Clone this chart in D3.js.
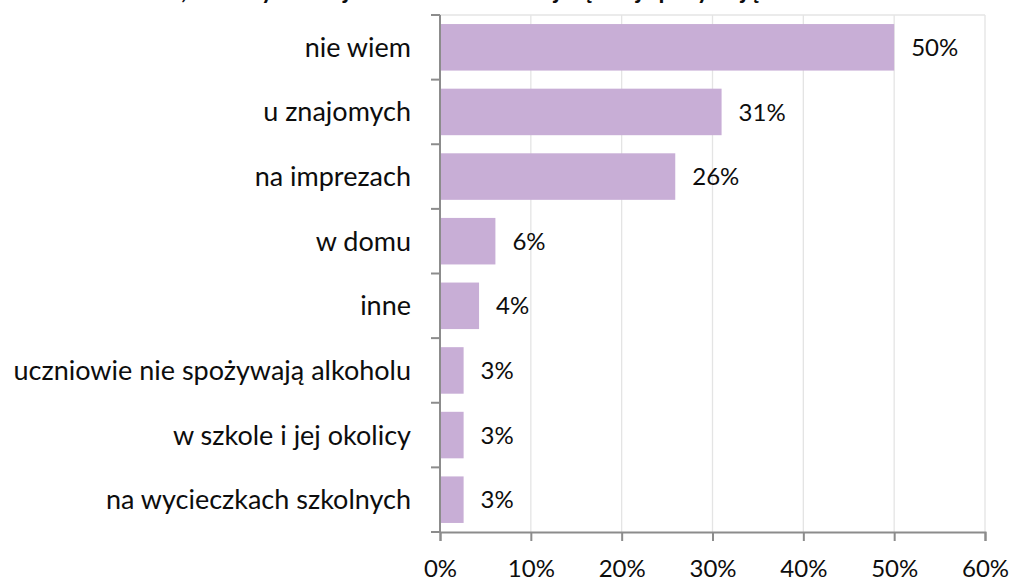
<!DOCTYPE html>
<html lang="pl">
<head>
<meta charset="UTF-8">
<title>Miejsca spożywania alkoholu</title>
<script src="https://cdn.jsdelivr.net/npm/d3@7"></script>
<style>
  body { margin: 0; background: #fff; }
  svg text { font-family: Lato, "Open Sans", sans-serif; fill: #0d0d0d; }
</style>
</head>
<body>
<svg id="chart" width="1013" height="581"></svg>
<script>
// dane
var categories = ['nie wiem', 'u znajomych', 'na imprezach', 'w domu', 'inne',
  'uczniowie nie spożywają alkoholu', 'w szkole i jej okolicy', 'na wycieczkach szkolnych'];
var values = [50, 31, 25.9, 6.1, 4.3, 2.6, 2.6, 2.6];
var xTicks = [0, 10, 20, 30, 40, 50, 60];
var title = 'Zdaniem rodziców, w których miejscach uczniowie najczęściej spożywają alkohol?';

var svg = d3.select('#chart');
var margin = { top: 15, left: 440, right: 28, bottom: 49 };
var width = 1013 - margin.left - margin.right;
var height = 581 - margin.top - margin.bottom;

// tytuł - w oryginale ucięty u góry, widać tylko ogonki liter
var titleText = svg.append('text')
  .attr('x', 0)
  .attr('y', -1)
  .style('font-weight', 'bold')
  .style('font-size', '24px')
  .text(title);
// ustawiamy tak, żeby "najczęściej" wypadło mniej więcej tam gdzie w oryginale
var idx = title.indexOf('najczęściej');
var offset = titleText.node().getSubStringLength(0, idx);
titleText.attr('x', 528 - offset);

var g = svg.append('g').attr('transform', 'translate(' + margin.left + ',' + margin.top + ')');

var x = d3.scaleLinear().domain([0, 60]).range([0, width]);
var y = d3.scaleBand().domain(categories).range([0, height]).paddingInner(0.28).paddingOuter(0.14);

// siatka
g.append('g')
  .selectAll('line')
  .data(xTicks.slice(1))
  .join('line')
  .attr('x1', d => x(d)).attr('x2', d => x(d))
  .attr('y1', 0).attr('y2', height)
  .attr('stroke', '#e4e4e4').attr('stroke-width', 1.3);
g.append('line')
  .attr('x1', 0).attr('x2', width).attr('y1', 0).attr('y2', 0)
  .attr('stroke', '#e4e4e4').attr('stroke-width', 1.3);

// słupki
g.selectAll('rect.bar')
  .data(values)
  .join('rect')
  .attr('class', 'bar')
  .attr('x', 0)
  .attr('y', (d, i) => y(categories[i]))
  .attr('width', d => x(d))
  .attr('height', y.bandwidth())
  .attr('fill', '#c8aed6');

// etykiety wartości
g.selectAll('text.val')
  .data(values)
  .join('text')
  .attr('class', 'val')
  .attr('x', d => x(d) + 17)
  .attr('y', (d, i) => y(categories[i]) + y.bandwidth() / 2)
  .attr('dy', '0.36em')
  .style('font-size', '24px')
  .text(d => Math.round(d) + '%');

// oś X
var xAxis = d3.axisBottom(x).tickValues(xTicks).tickFormat(d => d + '%').tickSize(9).tickPadding(19);
var gx = g.append('g').attr('transform', 'translate(0,' + height + ')').call(xAxis);
gx.select('.domain').attr('stroke', '#8c8c8c').attr('stroke-width', 2);
gx.selectAll('.tick line').attr('stroke', '#8c8c8c').attr('stroke-width', 2);
gx.selectAll('.tick text').style('font-size', '24px').style('font-family', 'Lato, sans-serif').attr('fill', '#0d0d0d');

// oś Y z kreskami między kategoriami
var gy = g.append('g');
gy.append('line')
  .attr('x1', 0).attr('x2', 0).attr('y1', 0).attr('y2', height)
  .attr('stroke', '#8c8c8c').attr('stroke-width', 2);
gy.selectAll('line.tk')
  .data(d3.range(categories.length + 1))
  .join('line')
  .attr('class', 'tk')
  .attr('x1', -9).attr('x2', 0)
  .attr('y1', i => i * y.step()).attr('y2', i => i * y.step())
  .attr('stroke', '#8c8c8c').attr('stroke-width', 2);
gy.selectAll('text')
  .data(categories)
  .join('text')
  .attr('x', -29)
  .attr('y', d => y(d) + y.bandwidth() / 2)
  .attr('dy', '0.35em')
  .attr('text-anchor', 'end')
  .style('font-size', '27px')
  .text(d => d);
</script>
</body>
</html>
